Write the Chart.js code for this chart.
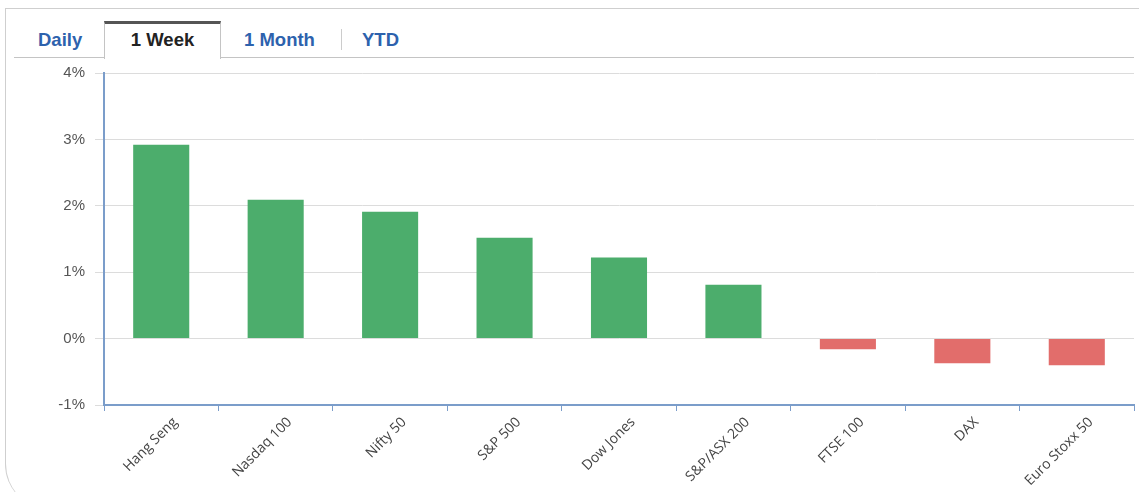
<!DOCTYPE html>
<html>
<head>
<meta charset="utf-8">
<script src="https://cdn.jsdelivr.net/npm/chart.js@4/dist/chart.umd.min.js"></script>
<style>
  html, body { margin: 0; padding: 0; background: #fff; overflow: hidden; }
  body { width: 1139px; height: 492px; position: relative; font-family: Arial, "Liberation Sans", sans-serif; }
  #frame { position: absolute; left: 5px; top: 8px; width: 1150px; height: 500px;
           border-top: 1px solid #cfcfcf; border-left: 1px solid #cfcfcf; border-bottom-left-radius: 45px; }
  #tabline { position: absolute; left: 14px; top: 57px; width: 1120px; border-top: 1px solid #c4c4c4; }
  .tab { position: absolute; top: 29px; font-size: 18.5px; font-weight: bold; color: #2d62ad; }
  #week { position: absolute; left: 104px; top: 21px; width: 117px; background: #fff;
          border-top: 3px solid #555; border-left: 1px solid #c4c4c4; border-right: 1px solid #c4c4c4;
          color: #222; font-size: 18.5px; font-weight: bold; text-align: center; line-height: 32px; box-sizing: border-box; height: 38px; }
  #sep { position: absolute; left: 341px; top: 29px; height: 21px; border-left: 1px solid #ccc; }
  #wrap { position: absolute; left: 0; top: 54px; width: 1139px; height: 438px; }
</style>
</head>
<body>
<div id="frame"></div>
<div id="tabline"></div>
<div class="tab" style="left:38px">Daily</div>
<div id="week">1 Week</div>
<div class="tab" style="left:244px">1 Month</div>
<div id="sep"></div>
<div class="tab" style="left:362px">YTD</div>
<div id="wrap"><canvas id="grafico"></canvas></div>
<script>
var indices = ['Hang Seng', 'Nasdaq 100', 'Nifty 50', 'S&P 500', 'Dow Jones', 'S&P/ASX 200', 'FTSE 100', 'DAX', 'Euro Stoxx 50']
var cambio = [2.92, 2.09, 1.91, 1.52, 1.22, 0.81, -0.16, -0.37, -0.40]
var marcasY = [-1, 0, 1, 2, 3, 4]

var colores = cambio.map(v => v >= 0 ? '#4cad6c' : '#e26d6b')
var azul = '#7b9dca'

var ctx = document.getElementById('grafico')
var mychart = new Chart(ctx, {
    type: 'bar',
    data: {
        labels: indices,
        datasets: [{
            data: cambio,
            backgroundColor: colores,
            barPercentage: 0.49,
            categoryPercentage: 1
        }]
    },
    options: {
        responsive: true,
        maintainAspectRatio: false,
        animation: false,
        layout: { padding: { top: 7, right: 5, left: 0, bottom: 0 } },
        plugins: { legend: { display: false }, tooltip: { enabled: false } },
        scales: {
            x: {
                afterFit: s => { s.height = 87 },
                border: { color: azul, width: 2 },
                grid: { drawOnChartArea: false, color: azul, tickLength: 6, offset: true },
                ticks: {
                    minRotation: 45, maxRotation: 45, autoSkip: false, labelOffset: 14, padding: 3,
                    color: '#444', font: { family: 'Open Sans', size: 14 }
                }
            },
            y: {
                min: -1, max: 4,
                afterFit: s => { s.width = 104 },
                afterBuildTicks: s => { s.ticks = marcasY.map(v => ({ value: v })) },
                border: { color: azul, width: 2 },
                grid: { color: '#dcdcdc', tickLength: 9 },
                ticks: {
                    padding: 10, color: '#555', font: { family: 'Arial', size: 15 },
                    callback: v => v + '%'
                }
            }
        }
    }
})
</script>
</body>
</html>
